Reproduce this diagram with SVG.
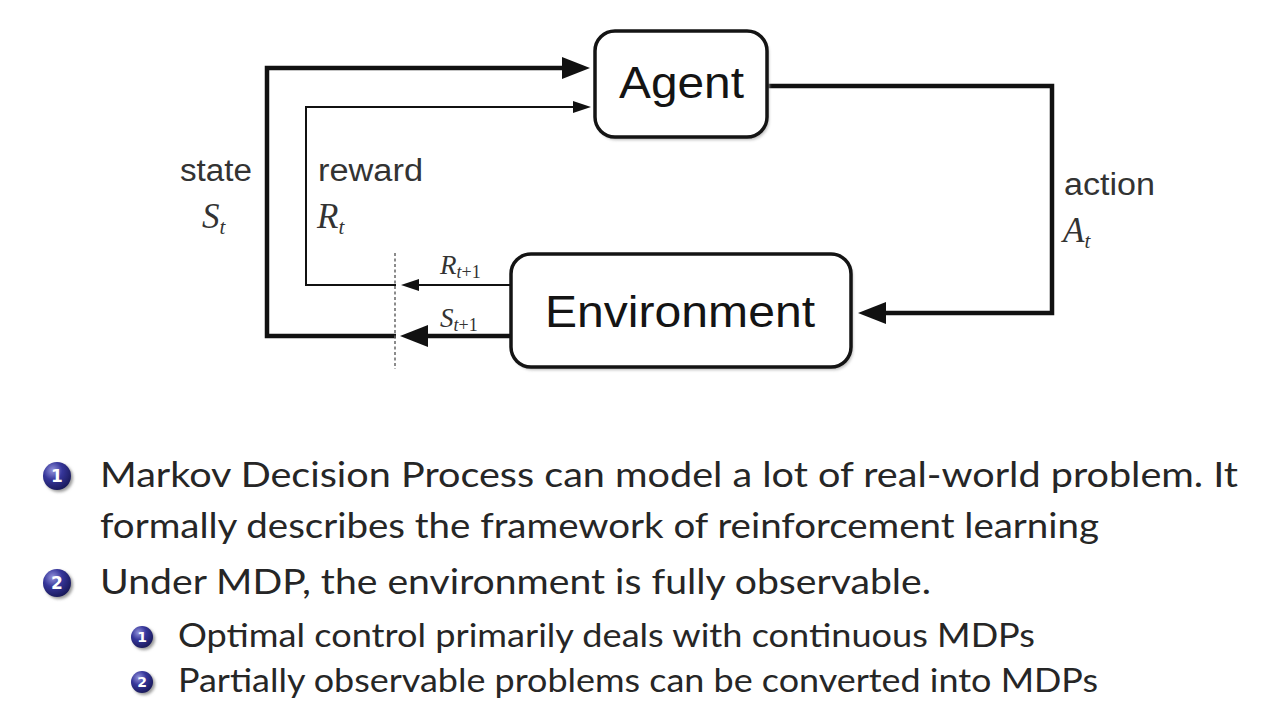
<svg xmlns="http://www.w3.org/2000/svg" width="1262" height="710" viewBox="0 0 1262 710">
  <style>
    .box { fill: #ffffff; stroke: #141414; stroke-width: 3.5; }
    .boxlabel { font-family: "Liberation Sans", Arial, sans-serif; font-size: 45px; fill: #141414; }
    .lbl { font-family: "Liberation Sans", Arial, sans-serif; font-size: 31px; fill: #333333; }
    .math { font-family: "Liberation Serif", "Times New Roman", serif; font-style: italic; font-size: 35px; fill: #333333; }
    .math2 { font-family: "Liberation Serif", "Times New Roman", serif; font-style: italic; font-size: 27px; fill: #333333; }
    .sub { font-size: 21px; }
    .sub2 { font-size: 18px; }
    .up { font-style: normal; }
    .thick { fill: none; stroke: #111111; stroke-width: 4.5; }
    .thin { fill: none; stroke: #111111; stroke-width: 2; }
    .dash { fill: none; stroke: #666666; stroke-width: 1.5; stroke-dasharray: 3 2.5; }
    .body { font-family: Lato, "Noto Sans", sans-serif; font-size: 34px; fill: #262626; }
    .bodysm { font-family: Lato, "Noto Sans", sans-serif; font-size: 32px; fill: #262626; }
    .num { font-family: "DejaVu Sans", sans-serif; font-weight: bold; fill: #ffffff; text-anchor: middle; }
  </style>
  <defs>
    <marker id="arrBig" markerUnits="userSpaceOnUse" markerWidth="30" markerHeight="24" refX="2" refY="11" orient="auto">
      <path d="M0,0 L28,11 L0,22 z" fill="#111111"/>
    </marker>
    <marker id="arrSmall" markerUnits="userSpaceOnUse" markerWidth="20" markerHeight="14" refX="1" refY="6" orient="auto">
      <path d="M0,0 L18,6 L0,12 z" fill="#111111"/>
    </marker>
    <radialGradient id="ball" cx="0.35" cy="0.3" r="0.75">
      <stop offset="0" stop-color="#9494dc"/>
      <stop offset="0.45" stop-color="#36369a"/>
      <stop offset="1" stop-color="#181858"/>
    </radialGradient>
    <filter id="soft" x="-50%" y="-50%" width="200%" height="200%">
      <feGaussianBlur stdDeviation="1.5"/>
    </filter>
  </defs>

  <rect width="1262" height="710" fill="#ffffff"/>

  <g id="connectors">
    <path class="thick" d="M396,336 H267 V68 H564" marker-end="url(#arrBig)"/>
    <path class="thin" d="M396,285 H306 V107 H574" marker-end="url(#arrSmall)"/>
    <path class="thin" d="M511,285 H418" marker-end="url(#arrSmall)"/>
    <path class="thick" d="M511,336 H426" marker-end="url(#arrBig)"/>
    <path class="thick" d="M767,86 H1052 V313 H884" marker-end="url(#arrBig)"/>
    <path class="dash" d="M395,253 V369"/>
  </g>

  <g id="agent">
    <rect x="597" y="34" width="172" height="106" rx="20" fill="#bbbbbb" filter="url(#soft)"/>
    <rect class="box" x="595" y="31" width="172" height="106" rx="20"/>
    <text class="boxlabel" x="619" y="98" textLength="125" lengthAdjust="spacingAndGlyphs">Agent</text>
  </g>

  <g id="environment">
    <rect x="513" y="257" width="340" height="113" rx="20" fill="#bbbbbb" filter="url(#soft)"/>
    <rect class="box" x="511" y="254" width="340" height="113" rx="20"/>
    <text class="boxlabel" x="545" y="327" textLength="270" lengthAdjust="spacingAndGlyphs">Environment</text>
  </g>

  <g id="labels">
    <text class="lbl" x="180" y="181" textLength="72" lengthAdjust="spacingAndGlyphs">state</text>
    <text class="math" x="202" y="228">S<tspan class="sub" dy="6">t</tspan></text>
    <text class="lbl" x="318" y="181" textLength="105" lengthAdjust="spacingAndGlyphs">reward</text>
    <text class="math" x="317" y="228">R<tspan class="sub" dy="6">t</tspan></text>
    <text class="math2" x="440" y="274">R<tspan class="sub2" dy="4">t</tspan><tspan class="sub2 up">+1</tspan></text>
    <text class="math2" x="440" y="327">S<tspan class="sub2" dy="4">t</tspan><tspan class="sub2 up">+1</tspan></text>
    <text class="lbl" x="1064" y="195" textLength="91" lengthAdjust="spacingAndGlyphs">action</text>
    <text class="math" x="1063" y="242">A<tspan class="sub" dy="6">t</tspan></text>
  </g>

  <g id="bullets">
    <g id="bullet-1">
      <circle cx="59" cy="478" r="14" fill="#999999" filter="url(#soft)"/>
      <circle cx="57" cy="476" r="14" fill="url(#ball)"/>
      <text class="num" x="57" y="482" font-size="17">1</text>
      <text class="body" x="100" y="487" textLength="1138" lengthAdjust="spacingAndGlyphs">Markov Decision Process can model a lot of real-world problem. It</text>
      <text class="body" x="100" y="538" textLength="999" lengthAdjust="spacingAndGlyphs">formally describes the framework of reinforcement learning</text>
    </g>
    <g id="bullet-2">
      <circle cx="59" cy="585" r="14" fill="#999999" filter="url(#soft)"/>
      <circle cx="57" cy="583" r="14" fill="url(#ball)"/>
      <text class="num" x="57" y="589" font-size="17">2</text>
      <text class="body" x="100" y="594" textLength="831" lengthAdjust="spacingAndGlyphs">Under MDP, the environment is fully observable.</text>
    </g>
    <g id="bullet-2-1">
      <circle cx="144" cy="639" r="11" fill="#999999" filter="url(#soft)"/>
      <circle cx="142" cy="637" r="11" fill="url(#ball)"/>
      <text class="num" x="142" y="642" font-size="14">1</text>
      <text class="bodysm" x="178" y="647" textLength="857" lengthAdjust="spacingAndGlyphs">Optimal control primarily deals with continuous MDPs</text>
    </g>
    <g id="bullet-2-2">
      <circle cx="144" cy="684" r="11" fill="#999999" filter="url(#soft)"/>
      <circle cx="142" cy="682" r="11" fill="url(#ball)"/>
      <text class="num" x="142" y="687" font-size="14">2</text>
      <text class="bodysm" x="178" y="692" textLength="920" lengthAdjust="spacingAndGlyphs">Partially observable problems can be converted into MDPs</text>
    </g>
  </g>
</svg>
